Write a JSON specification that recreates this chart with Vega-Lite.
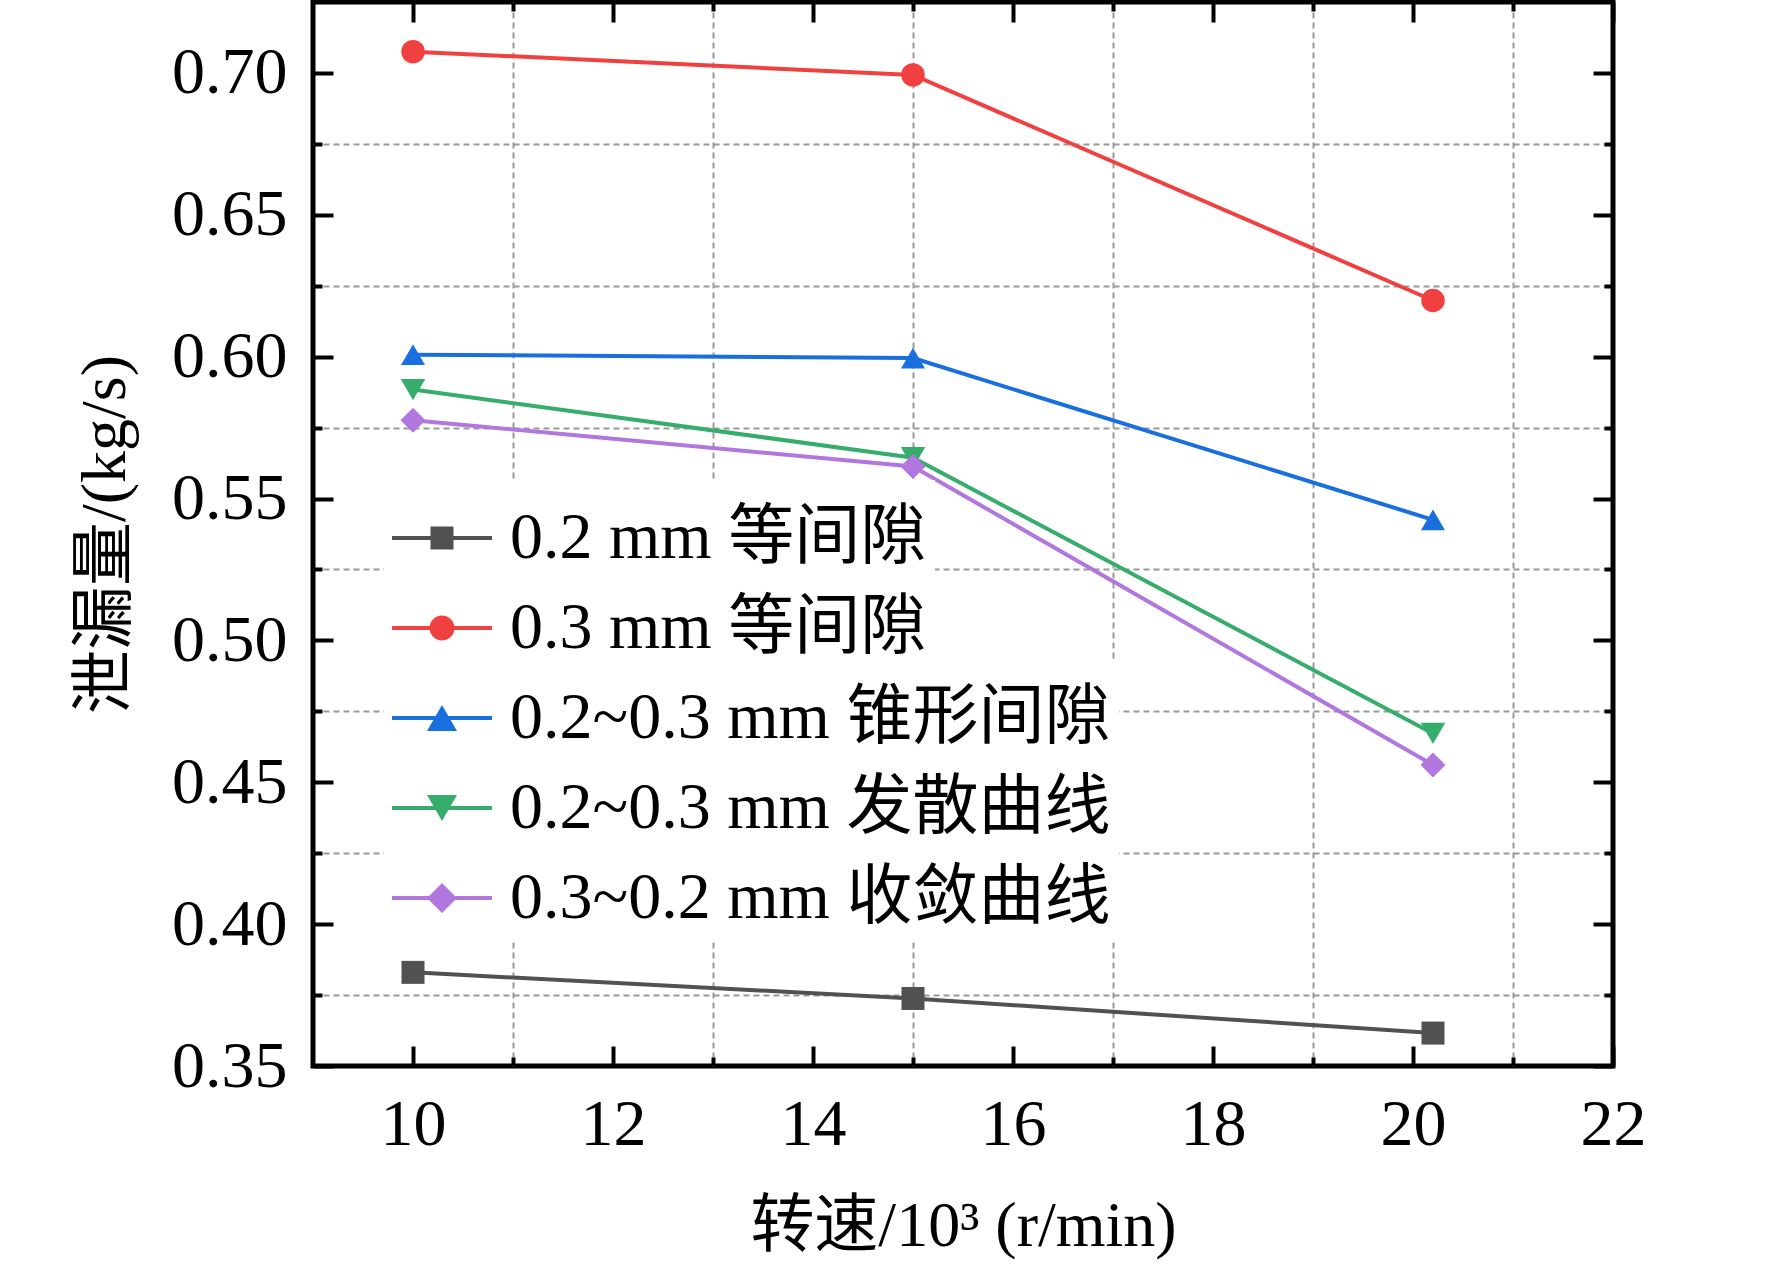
{
  "$schema": "https://vega.github.io/schema/vega-lite/v6.json",
  "autosize": "none",
  "width": 1300,
  "height": 1064,
  "padding": {"left": 313, "top": 2, "right": 159, "bottom": 203},
  "background": "white",
  "datasets": {
    "leak": [
      {"series": "0.2 mm 等间隙", "speed": 10, "flow": 0.383},
      {"series": "0.2 mm 等间隙", "speed": 15, "flow": 0.3738},
      {"series": "0.2 mm 等间隙", "speed": 20.2, "flow": 0.3616},
      {"series": "0.3 mm 等间隙", "speed": 10, "flow": 0.7075},
      {"series": "0.3 mm 等间隙", "speed": 15, "flow": 0.6993},
      {"series": "0.3 mm 等间隙", "speed": 20.2, "flow": 0.6198},
      {"series": "0.2~0.3 mm 锥形间隙", "speed": 10, "flow": 0.6007},
      {"series": "0.2~0.3 mm 锥形间隙", "speed": 15, "flow": 0.5995},
      {"series": "0.2~0.3 mm 锥形间隙", "speed": 20.2, "flow": 0.5425},
      {"series": "0.2~0.3 mm 发散曲线", "speed": 10, "flow": 0.5884},
      {"series": "0.2~0.3 mm 发散曲线", "speed": 15, "flow": 0.5644},
      {"series": "0.2~0.3 mm 发散曲线", "speed": 20.2, "flow": 0.4672},
      {"series": "0.3~0.2 mm 收敛曲线", "speed": 10, "flow": 0.5776},
      {"series": "0.3~0.2 mm 收敛曲线", "speed": 15, "flow": 0.5613},
      {"series": "0.3~0.2 mm 收敛曲线", "speed": 20.2, "flow": 0.4561}
    ]
  },
  "data": {"name": "leak"},
  "config": {
    "view": {"stroke": "black", "strokeWidth": 5},
    "axis": {
      "domain": false,
      "labelFont": "Liberation Serif",
      "labelFontSize": 66,
      "labelColor": "black",
      "labelFlush": false,
      "labelOverlap": false,
      "labelBound": false,
      "labelPadding": 46,
      "titleFont": "Liberation Serif, Noto Sans CJK SC",
      "titleFontSize": 64,
      "titleFontWeight": "normal",
      "titleColor": "black",
      "tickColor": "black",
      "tickWidth": 4,
      "gridColor": "#999999",
      "gridWidth": 2,
      "gridDash": [6, 4]
    },
    "legend": {
      "title": null,
      "orient": "none",
      "padding": 8,
      "fillColor": "white",
      "symbolSize": 10000,
      "symbolStrokeWidth": 0,
      "labelFont": "Liberation Serif, Noto Sans CJK SC",
      "labelFontSize": 66,
      "labelColor": "black",
      "labelLimit": 0,
      "labelOffset": 18,
      "rowPadding": 7
    }
  },
  "resolve": {
    "scale": {"color": "independent", "shape": "independent", "size": "independent"},
    "axis": {"x": "independent", "y": "independent"}
  },
  "layer": [
    {
      "mark": {"type": "line", "strokeWidth": 4},
      "encoding": {
        "x": {
          "field": "speed",
          "type": "quantitative",
          "scale": {"domain": [9, 22], "nice": false, "zero": false},
          "axis": {
            "orient": "bottom",
            "title": "转速/10³ (r/min)",
            "titlePadding": 26,
            "values": [10, 11, 12, 13, 14, 15, 16, 17, 18, 19, 20, 21, 22],
            "labelExpr": "datum.value % 2 === 0 ? datum.label : ''",
            "tickSize": {"condition": {"test": "datum.value % 2 === 0", "value": -20}, "value": -9},
            "grid": true,
            "gridOpacity": {"condition": {"test": "datum.value % 2 === 0", "value": 0}, "value": 1}
          }
        },
        "y": {
          "field": "flow",
          "type": "quantitative",
          "scale": {"domain": [0.35, 0.725], "nice": false, "zero": false},
          "axis": {
            "orient": "left",
            "title": "泄漏量/(kg/s)",
            "titlePadding": 34,
            "values": [0.35, 0.375, 0.4, 0.425, 0.45, 0.475, 0.5, 0.525, 0.55, 0.575, 0.6, 0.625, 0.65, 0.675, 0.7],
            "labelExpr": "abs(datum.value * 20 - round(datum.value * 20)) < 0.001 ? format(datum.value, '.2f') : ''",
            "tickSize": {"condition": {"test": "abs(datum.value * 20 - round(datum.value * 20)) < 0.001", "value": -20}, "value": -9},
            "grid": true,
            "gridOpacity": {"condition": {"test": "abs(datum.value * 20 - round(datum.value * 20)) < 0.001", "value": 0}, "value": 1}
          }
        },
        "color": {
          "field": "series",
          "type": "nominal",
          "scale": {
            "domain": ["0.2 mm 等间隙", "0.3 mm 等间隙", "0.2~0.3 mm 锥形间隙", "0.2~0.3 mm 发散曲线", "0.3~0.2 mm 收敛曲线"],
            "range": ["#515151", "#F14040", "#1A6FDF", "#37AD6B", "#B177DE"]
          },
          "legend": null
        }
      }
    },
    {
      "mark": {"type": "point", "filled": true, "opacity": 1},
      "encoding": {
        "x": {
          "field": "speed",
          "type": "quantitative",
          "axis": {
            "orient": "top",
            "title": null,
            "labels": false,
            "values": [10, 11, 12, 13, 14, 15, 16, 17, 18, 19, 20, 21, 22],
            "tickSize": {"condition": {"test": "datum.value % 2 === 0", "value": -20}, "value": -9},
            "grid": false
          }
        },
        "y": {
          "field": "flow",
          "type": "quantitative",
          "axis": {
            "orient": "right",
            "title": null,
            "labels": false,
            "values": [0.35, 0.375, 0.4, 0.425, 0.45, 0.475, 0.5, 0.525, 0.55, 0.575, 0.6, 0.625, 0.65, 0.675, 0.7],
            "tickSize": {"condition": {"test": "abs(datum.value * 20 - round(datum.value * 20)) < 0.001", "value": -20}, "value": -9},
            "grid": false
          }
        },
        "color": {
          "field": "series",
          "type": "nominal",
          "scale": {
            "domain": ["0.2 mm 等间隙", "0.3 mm 等间隙", "0.2~0.3 mm 锥形间隙", "0.2~0.3 mm 发散曲线", "0.3~0.2 mm 收敛曲线"],
            "range": ["#515151", "#F14040", "#1A6FDF", "#37AD6B", "#B177DE"]
          },
          "legend": null
        },
        "shape": {
          "field": "series",
          "type": "nominal",
          "scale": {
            "domain": ["0.2 mm 等间隙", "0.3 mm 等间隙", "0.2~0.3 mm 锥形间隙", "0.2~0.3 mm 发散曲线", "0.3~0.2 mm 收敛曲线"],
            "range": ["square", "circle", "triangle-up", "triangle-down", "diamond"]
          },
          "legend": null
        },
        "size": {
          "field": "series",
          "type": "nominal",
          "scale": {
            "domain": ["0.2 mm 等间隙", "0.3 mm 等间隙", "0.2~0.3 mm 锥形间隙", "0.2~0.3 mm 发散曲线", "0.3~0.2 mm 收敛曲线"],
            "range": [529, 625, 900, 900, 900]
          },
          "legend": null
        }
      }
    },
    {
      "transform": [{"filter": "false"}],
      "mark": {"type": "point", "filled": true, "opacity": 1, "size": 10000},
      "encoding": {
        "color": {
          "field": "series",
          "type": "nominal",
          "scale": {
            "domain": ["0.2 mm 等间隙", "0.3 mm 等间隙"],
            "range": ["#515151", "#F14040"]
          },
          "legend": {"legendX": 71, "legendY": 478}
        },
        "shape": {
          "field": "series",
          "type": "nominal",
          "scale": {
            "domain": ["0.2 mm 等间隙", "0.3 mm 等间隙"],
            "range": [
              "M-1,-0.04H1V0.04H-1Z M-0.23,-0.23H0.23V0.23H-0.23Z",
              "M-1,-0.04H1V0.04H-1Z M0.25,0A0.25,0.25 0 1,1 -0.25,0A0.25,0.25 0 1,1 0.25,0Z"
            ]
          },
          "legend": {"legendX": 71, "legendY": 478}
        }
      }
    },
    {
      "transform": [{"filter": "false"}],
      "mark": {"type": "point", "filled": true, "opacity": 1, "size": 10000},
      "encoding": {
        "color": {
          "field": "series",
          "type": "nominal",
          "scale": {
            "domain": ["0.2~0.3 mm 锥形间隙", "0.2~0.3 mm 发散曲线", "0.3~0.2 mm 收敛曲线"],
            "range": ["#1A6FDF", "#37AD6B", "#B177DE"]
          },
          "legend": {"legendX": 71, "legendY": 658}
        },
        "shape": {
          "field": "series",
          "type": "nominal",
          "scale": {
            "domain": ["0.2~0.3 mm 锥形间隙", "0.2~0.3 mm 发散曲线", "0.3~0.2 mm 收敛曲线"],
            "range": [
              "M-1,-0.04H1V0.04H-1Z M0,-0.26L0.3,0.26L-0.3,0.26Z",
              "M-1,-0.04H1V0.04H-1Z M0,0.26L-0.3,-0.26L0.3,-0.26Z",
              "M-1,-0.04H1V0.04H-1Z M0,-0.3L0.3,0L0,0.3L-0.3,0Z"
            ]
          },
          "legend": {"legendX": 71, "legendY": 658}
        }
      }
    }
  ]
}
